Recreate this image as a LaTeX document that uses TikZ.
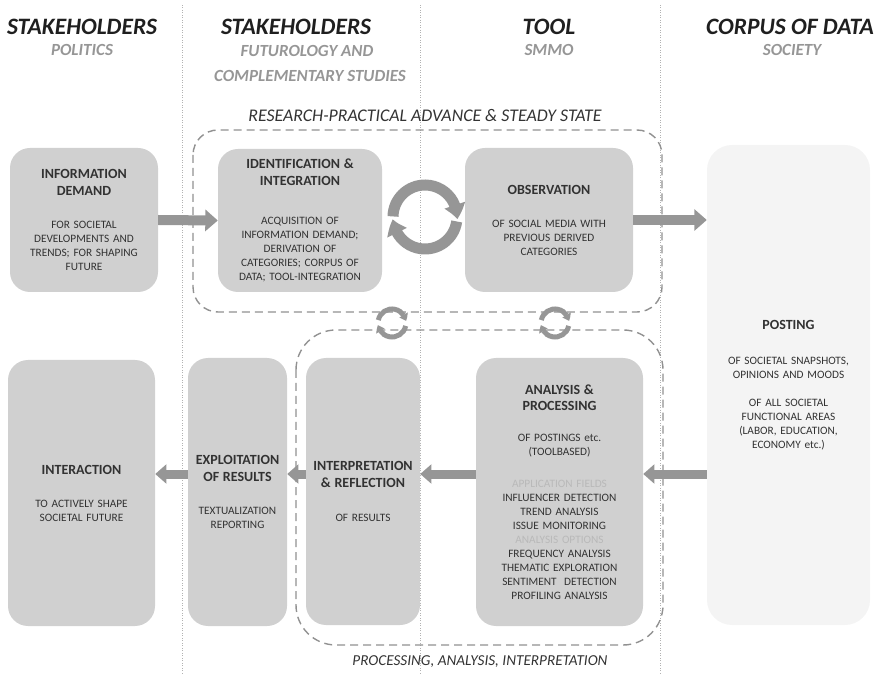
\documentclass[tikz,border=0pt]{standalone}
\usepackage{fontspec}
\setmainfont{Carlito}
\usepackage{xcolor}
\usetikzlibrary{positioning, arrows.meta, bending}

\definecolor{boxgray}{RGB}{208,208,208}
\definecolor{palegray}{RGB}{244,244,244}
\definecolor{arrowgray}{RGB}{150,150,150}
\definecolor{dashgray}{RGB}{145,145,145}
\definecolor{textdark}{RGB}{50,50,50}
\definecolor{subgray}{RGB}{150,150,150}
\definecolor{fieldgray}{RGB}{185,185,185}
\newcommand{\boxttl}[1]{{\fontsize{14}{16.5}\selectfont\bfseries #1\par}}

\begin{document}
\begin{tikzpicture}[
        x=1pt, y=1pt,
        stage/.style={fill=#1, rounded corners=20pt, align=center, text=textdark, font=\fontsize{11.3}{14}\selectfont, inner sep=0pt},
        stage/.default=boxgray,
        head/.style={font=\fontsize{23.5}{26}\selectfont\bfseries\itshape, text=black!88, anchor=base},
        subhead/.style={font=\fontsize{17}{25}\selectfont\bfseries\itshape, text=subgray, anchor=base},
        phase/.style={font=\fontsize{#1}{17}\selectfont\itshape, text=black!80, anchor=base},
        frame/.style={draw=dashgray, line width=1.4pt, dash pattern=on 8pt off 5pt, rounded corners=#1},
        divider/.style={draw=black!30, line width=0.5pt, dotted},
        flow/.style={draw=arrowgray, line width=#1, -{Triangle[length=0pt 1.25, width=0pt 2.1]}},
        flow/.default=10pt,
        spin/.style={draw=arrowgray, line width=#1, -{Triangle[bend, length=0pt 1.3, width=0pt 1.9]}},
    ]
    \useasboundingbox (0,0) rectangle (876,673);

    % Column dividers
    \draw[divider] (182,0) -- (182,668);
    \draw[divider] (420,0) -- (420,668);
    \draw[divider] (660,0) -- (660,668);

    % Column headers
    \node[head] (polhead) at (82,638) {STAKEHOLDERS};
    \node[subhead] (polsub) at (82,617) {POLITICS};
    \node[head] (futhead) at (296,638) {STAKEHOLDERS};
    \node[subhead] (futsub) at (307,616) {FUTUROLOGY AND};
    \node[subhead] (futsubb) at (310,591) {COMPLEMENTARY STUDIES};
    \node[head] (toolhead) at (549,638) {TOOL};
    \node[subhead] (toolsub) at (549,617) {SMMO};
    \node[head] (corphead) at (790,638) {CORPUS OF DATA};
    \node[subhead] (corpsub) at (792,617) {SOCIETY};

    % Phase frames
    \draw[frame=25pt] (193,543) rectangle (662,361);
    \draw[frame=40pt] (296,343) rectangle (663,28);
    \node[phase=17.8] (resphase) at (425,551) {RESEARCH-PRACTICAL ADVANCE \& STEADY STATE};
    \node[phase=15.2] (procphase) at (480,8) {PROCESSING, ANALYSIS, INTERPRETATION};

    % Upper row
    \node[stage, minimum width=148pt, minimum height=144pt, text width=144pt] (demand) at (84,453)
        {\boxttl{INFORMATION\\DEMAND}\vspace{19pt}FOR SOCIETAL\\DEVELOPMENTS AND\\TRENDS; FOR SHAPING\\FUTURE};
    \node[stage, minimum width=164pt, minimum height=143pt, text width=160pt] (ident) at (300,452.5)
        {\boxttl{IDENTIFICATION \&\\INTEGRATION}\vspace{25pt}ACQUISITION OF\\INFORMATION DEMAND;\\DERIVATION OF\\CATEGORIES; CORPUS OF\\DATA; TOOL-INTEGRATION};
    \node[stage, minimum width=168pt, minimum height=144pt, text width=164pt] (observ) at (549,453)
        {\boxttl{OBSERVATION}\vspace{19pt}OF SOCIAL MEDIA WITH\\PREVIOUS DERIVED\\CATEGORIES};

    % Corpus of data
    \node[stage=palegray, rounded corners=25pt, minimum width=163pt, minimum height=480pt, text width=159pt] (posting) at (788.5,288)
        {\boxttl{POSTING}\vspace{21pt}OF SOCIETAL SNAPSHOTS,\\OPINIONS AND MOODS\par\vspace{14pt}OF ALL SOCIETAL\\FUNCTIONAL AREAS\\(LABOR, EDUCATION,\\ECONOMY etc.)};

    % Lower row
    \node[stage, minimum width=167pt, minimum height=268pt, text width=163pt] (analysis) at (559.5,181)
        {\boxttl{ANALYSIS \&\\PROCESSING}\vspace{17pt}OF POSTINGS etc.\\(TOOLBASED)\par\vspace{18pt}%
        {\color{fieldgray}APPLICATION FIELDS}\\INFLUENCER DETECTION\\TREND ANALYSIS\\ISSUE MONITORING\\%
        {\color{fieldgray}ANALYSIS OPTIONS}\\FREQUENCY ANALYSIS\\THEMATIC EXPLORATION\\SENTIMENT\ \ DETECTION\\PROFILING ANALYSIS};
    \node[stage, minimum width=114pt, minimum height=267pt, text width=112pt] (interp) at (363,181.5)
        {\boxttl{INTERPRETATION\\\& REFLECTION}\vspace{20pt}OF RESULTS};
    \node[stage, minimum width=99pt, minimum height=268pt, text width=97pt] (exploit) at (237.5,181)
        {\boxttl{EXPLOITATION\\OF RESULTS}\vspace{19pt}TEXTUALIZATION\\REPORTING};
    \node[stage, minimum width=147pt, minimum height=266pt, text width=143pt] (interact) at (81.5,180)
        {\boxttl{INTERACTION}\vspace{19pt}TO ACTIVELY SHAPE\\SOCIETAL FUTURE};

    % Flow arrows
    \coordinate (lane) at (0,199);
    \draw[flow] (demand.east) -- (ident.west);
    \draw[flow] (observ.east) -- (observ.east -| posting.west);
    \draw[flow=9pt] (posting.west |- lane) -- (analysis.east |- lane);
    \draw[flow=9pt] (analysis.west |- lane) -- (interp.east |- lane);
    \draw[flow=9pt] (interp.west |- lane) -- (exploit.east |- lane);
    \draw[flow=9pt] (exploit.west |- lane) -- (interact.east |- lane);

    % Cycle arrows
    \coordinate (bigcyc) at (425,456);
    \draw[spin=11pt] ([shift={(179:32)}]bigcyc) arc[start angle=179, end angle=-4, radius=32];
    \draw[spin=11pt] ([shift={(-8:32)}]bigcyc) arc[start angle=-8, end angle=-176, radius=32];
    \foreach \cx in {392,555} {
        \coordinate (smallcyc) at (\cx,350);
        \draw[spin=5pt] ([shift={(168:14)}]smallcyc) arc[start angle=168, end angle=8, radius=14];
        \draw[spin=5pt] ([shift={(-12:14)}]smallcyc) arc[start angle=-12, end angle=-172, radius=14];
    }
\end{tikzpicture}
\end{document}
